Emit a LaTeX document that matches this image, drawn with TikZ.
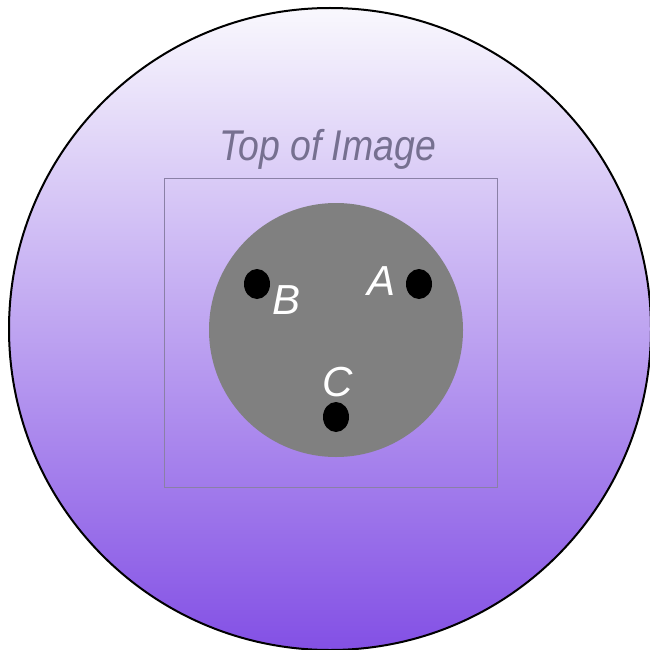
\documentclass[tikz,border=0pt]{standalone}
\usepackage{fontspec}
\setmainfont{Liberation Sans}
\usetikzlibrary{shapes.geometric}
\definecolor{topc}{HTML}{F9F8FD}
\definecolor{midc}{HTML}{BEA4F1}
\definecolor{botc}{HTML}{8350E5}
\definecolor{boxc}{HTML}{8A80A6}
\definecolor{txtc}{HTML}{767090}
\definecolor{discc}{HTML}{808080}
\tikzset{
  dotmark/.style={ellipse, fill=black, inner sep=0pt, minimum width=26pt, minimum height=30pt},
  lettr/.style={text=white, font=\fontsize{42}{42}\selectfont\itshape, inner sep=0pt},
}
\begin{document}
\begin{tikzpicture}[x=1pt,y=-1pt]
\useasboundingbox (0,0) rectangle (650,650);
\shade[top color=topc, middle color=midc, bottom color=botc, draw=black, line width=2pt] (330,329) circle (321);
\node[draw=boxc, line width=0.9pt, minimum width=333pt, minimum height=309pt, inner sep=0pt] (frame) at (330.5,332.5) {};
\node[text=txtc, font=\fontsize{43}{43}\selectfont\itshape, inner sep=0pt, xscale=0.87, anchor=base] (title) at (327.5,160) {Top of Image};
\node[circle, fill=discc, minimum size=254pt, inner sep=0pt] (disc) at (336,330) {};
\node[dotmark] (dB) at (257,284) {};
\node[dotmark] (dA) at (419,284) {};
\node[dotmark] (dC) at (336,417) {};
\node[lettr, anchor=base] (lB) at (287,314) {B};
\node[lettr, anchor=base] (lA) at (382,295) {A};
\node[lettr, anchor=base] (lC) at (338,396) {C};
\end{tikzpicture}
\end{document}
